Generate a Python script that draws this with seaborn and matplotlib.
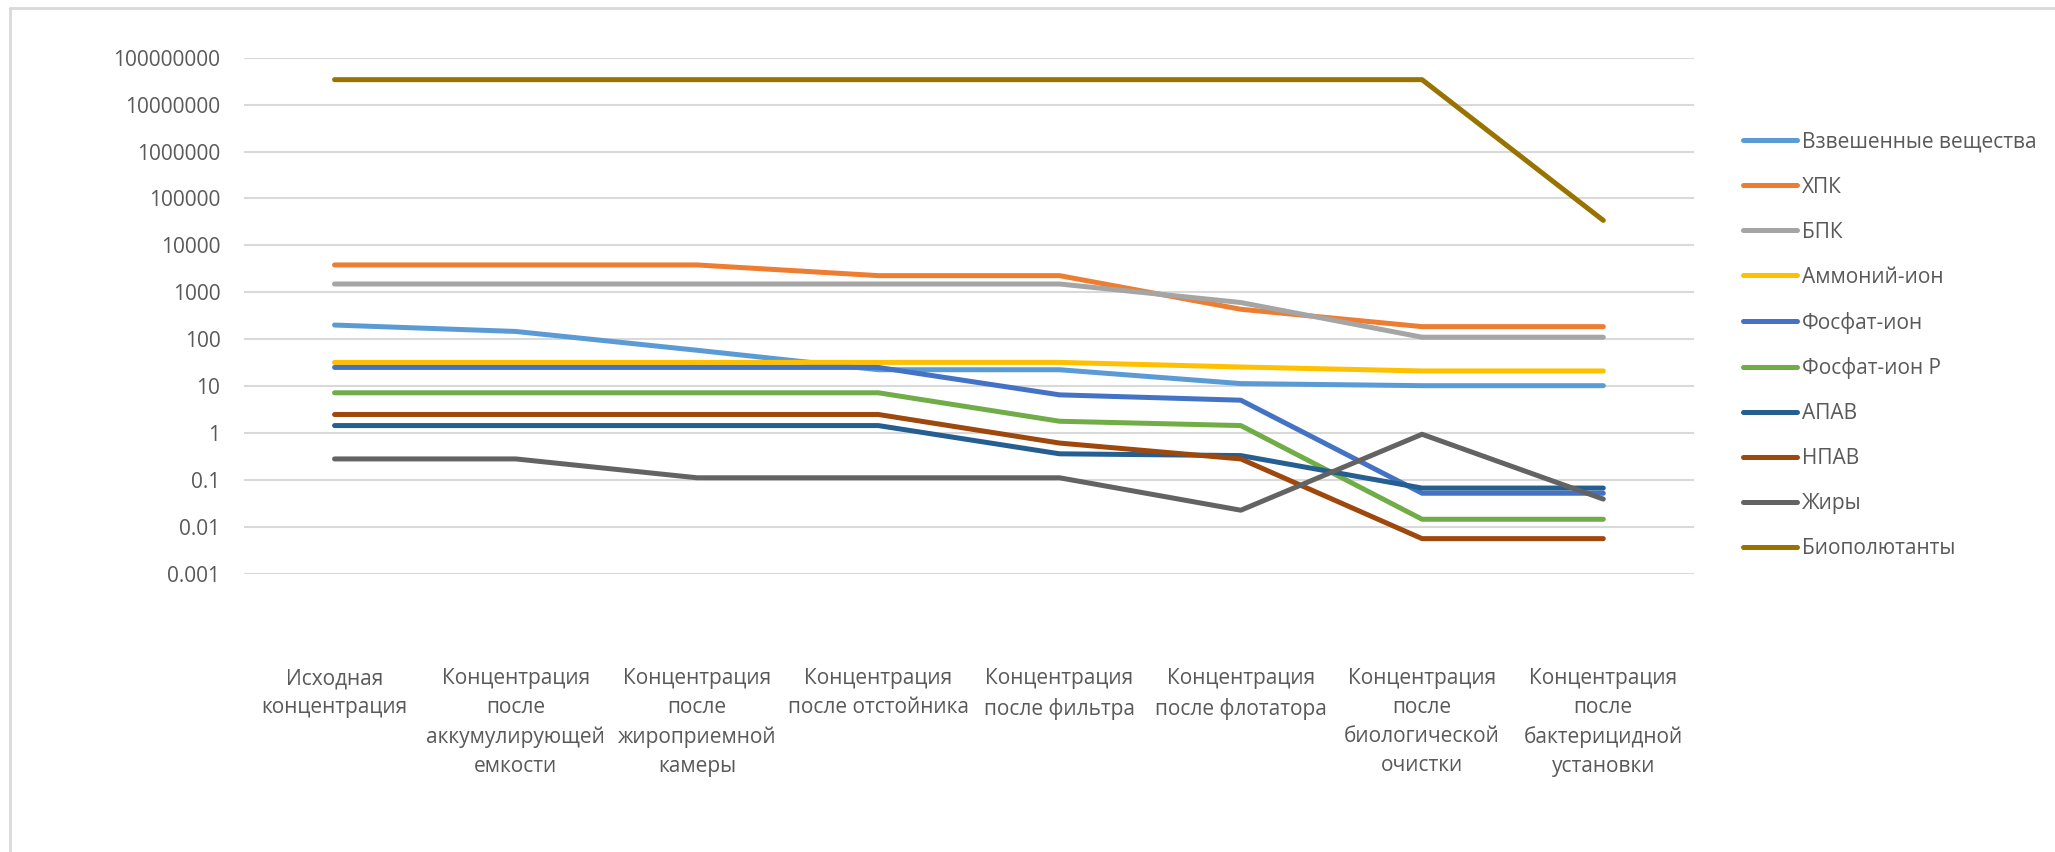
import numpy as np
import pandas as pd
import matplotlib
matplotlib.use("Agg")
import matplotlib.pyplot as plt
import seaborn as sns
from matplotlib.lines import Line2D
from matplotlib.ticker import FixedLocator, FuncFormatter, NullLocator

# --- data (log scale, mg/l etc.) ---
STAGES = [
    "Исходная\nконцентрация",
    "Концентрация\nпосле\nаккумулирующей\nемкости",
    "Концентрация\nпосле\nжироприемной\nкамеры",
    "Концентрация\nпосле отстойника",
    "Концентрация\nпосле фильтра",
    "Концентрация\nпосле флотатора",
    "Концентрация\nпосле\nбиологической\nочистки",
    "Концентрация\nпосле\nбактерицидной\nустановки",
]

SERIES = [
    "Взвешенные вещества", "ХПК", "БПК", "Аммоний-ион", "Фосфат-ион",
    "Фосфат-ион Р", "АПАВ", "НПАВ", "Жиры", "Биополютанты",
]

suspended = [200, 146, 58, 22.3, 22.3, 11.3, 10.2, 10.2]
cod = [3820, 3820, 3820, 2260, 2260, 434, 185, 185]
bod = [1500, 1500, 1500, 1500, 1500, 604, 110, 110]
ammonium = [32, 32, 32, 32, 32, 25.5, 21, 21]
phosphate = [25, 25, 25, 25, 6.5, 5.0, 0.052, 0.052]
phosphate_p = [7.2, 7.2, 7.2, 7.2, 1.78, 1.44, 0.0145, 0.0145]
apav = [1.44, 1.44, 1.44, 1.44, 0.36, 0.33, 0.067, 0.067]
npav = [2.48, 2.48, 2.48, 2.48, 0.61, 0.28, 0.0056, 0.0056]
fats = [0.28, 0.28, 0.111, 0.111, 0.111, 0.0226, 0.94, 0.039]
biopollutants = [3.4e7, 3.4e7, 3.4e7, 3.4e7, 3.4e7, 3.4e7, 3.4e7, 3.4e4]

VALUES = [suspended, cod, bod, ammonium, phosphate, phosphate_p,
          apav, npav, fats, biopollutants]

COLORS = ["#5B9BD5", "#ED7D31", "#A5A5A5", "#FFC000", "#4472C4",
          "#70AD47", "#255E91", "#9E480E", "#636363", "#997300"]

Y_TICKS = [1e-3, 1e-2, 1e-1, 1, 10, 100, 1000, 1e4, 1e5, 1e6, 1e7, 1e8]

sns.set_theme(style="white")
plt.rcParams["font.family"] = ["Open Sans", "DejaVu Sans"]
TEXT = "#595959"
GRID = "#D9D9D9"


def fmt_tick(v, _pos):
    if v >= 1:
        return f"{v:.0f}"
    return f"{v:.{int(round(-np.log10(v)))}f}"


def main():
    rows = []
    for name, vals in zip(SERIES, VALUES):
        for i, v in enumerate(vals):
            rows.append({"stage": i, "value": v, "series": name})
    df = pd.DataFrame(rows)

    fig = plt.figure(figsize=(20.55, 8.52), dpi=100)
    ax = fig.add_axes([0.1187, 0.3266, 0.7056, 0.6057])

    sns.lineplot(data=df, x="stage", y="value", hue="series", hue_order=SERIES,
                 palette=COLORS, linewidth=3.6, sort=False, ax=ax, legend=False,
                 solid_capstyle="round", solid_joinstyle="round")

    ax.set_yscale("log")
    ax.set_ylim(1e-3, 1e8)
    ax.set_xlim(-0.5, len(STAGES) - 0.5)
    ax.yaxis.set_major_locator(FixedLocator(Y_TICKS))
    ax.yaxis.set_minor_locator(NullLocator())
    ax.yaxis.set_major_formatter(FuncFormatter(fmt_tick))
    ax.set_xticks(range(len(STAGES)))
    ax.set_xticklabels(STAGES, linespacing=1.5)
    ax.set_xlabel("")
    ax.set_ylabel("")
    ax.grid(axis="y", color=GRID, linewidth=1.5)
    ax.set_axisbelow(True)
    for s in ax.spines.values():
        s.set_visible(False)
    ax.tick_params(axis="y", length=0, pad=17, labelsize=15, labelcolor=TEXT)
    ax.tick_params(axis="x", length=0, pad=68, labelsize=15, labelcolor=TEXT)

    handles = [Line2D([0], [0], color=c, linewidth=3.6, solid_capstyle="round")
               for c in COLORS]
    fig.legend(handles, SERIES, loc="center left", bbox_to_anchor=(0.848, 0.5945),
               frameon=False, fontsize=15, labelcolor=TEXT, handlelength=2.6,
               handletextpad=0.25, labelspacing=1.15, borderpad=0, borderaxespad=0)

    # outer chart frame (only the top and left edges are visible in the crop)
    fig.add_artist(Line2D([10 / 2055, 10 / 2055], [0, 1 - 8 / 852],
                          transform=fig.transFigure, color=GRID, linewidth=2))
    fig.add_artist(Line2D([10 / 2055, 1], [1 - 8 / 852, 1 - 8 / 852],
                          transform=fig.transFigure, color=GRID, linewidth=2))

    fig.savefig("out.png", dpi=100, facecolor="white")
    plt.close(fig)


if __name__ == "__main__":
    main()
